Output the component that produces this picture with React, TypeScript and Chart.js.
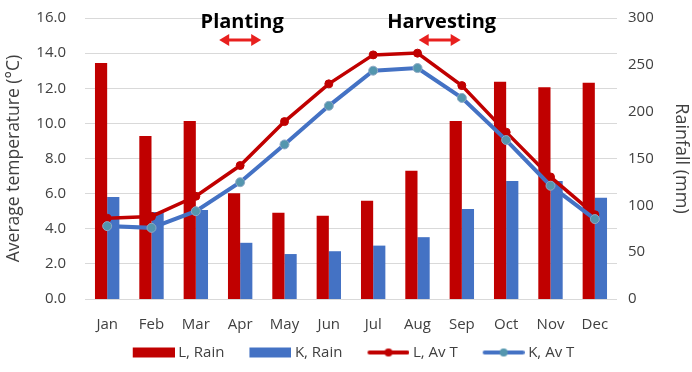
import React, { useEffect, useRef } from 'react';
import { Chart, registerables } from 'chart.js';

Chart.register(...registerables);

const months = ['Jan', 'Feb', 'Mar', 'Apr', 'May', 'Jun', 'Jul', 'Aug', 'Sep', 'Oct', 'Nov', 'Dec'];
const lRain = [252, 174, 190, 113, 92, 89, 105, 137, 190, 232, 226, 231];
const kRain = [109, 93, 95, 60, 48, 51, 57, 66, 96, 126, 126, 108];
const lTemp = [4.6, 4.7, 5.85, 7.6, 10.1, 12.25, 13.9, 14.0, 12.15, 9.5, 6.95, 4.8];
const kTemp = [4.15, 4.05, 5.0, 6.65, 8.8, 11.0, 13.0, 13.15, 11.45, 9.05, 6.45, 4.55];

const tempTicksMax = 16;
const rainTicksMax = 300;

const annotationLabels = ['Planting', 'Harvesting'];
const annotationFrom = [3, 7];
const annotationTo = [3, 8];

const RED = '#C00000';
const BLUE = '#4472C4';
const MARKER_K = '#5496AE';
const FONT = "'Open Sans', sans-serif";

function legendImage(kind: 'bar' | 'line', color: string, marker: string): HTMLCanvasElement {
  const c = document.createElement('canvas');
  c.width = 61;
  c.height = 12;
  const ctx = c.getContext('2d')!;
  const x0 = 19;
  if (kind === 'bar') {
    ctx.fillStyle = color;
    ctx.fillRect(x0, 1, 42, 10);
  } else {
    ctx.strokeStyle = color;
    ctx.lineWidth = 4;
    ctx.lineCap = 'round';
    ctx.beginPath();
    ctx.moveTo(x0 + 2, 6);
    ctx.lineTo(x0 + 40, 6);
    ctx.stroke();
    ctx.fillStyle = marker;
    ctx.beginPath();
    ctx.arc(x0 + 21, 6, 4, 0, Math.PI * 2);
    ctx.fill();
  }
  return c;
}

const annotationPlugin = {
  id: 'seasonAnnotations',
  afterDraw(chart: any) {
    const { ctx, chartArea, scales } = chart;
    const xs = scales.x;
    ctx.save();
    for (let i = 0; i < annotationLabels.length; i++) {
      const cx = (xs.getPixelForValue(annotationFrom[i]) + xs.getPixelForValue(annotationTo[i])) / 2;
      ctx.fillStyle = '#000000';
      ctx.font = `bold 20px ${FONT}`;
      ctx.textAlign = 'center';
      ctx.textBaseline = 'middle';
      ctx.fillText(annotationLabels[i], cx + 2, chartArea.top + 4);
      const ay = chartArea.top + 22;
      const hw = 21;
      ctx.strokeStyle = '#E8201E';
      ctx.fillStyle = '#E8201E';
      ctx.lineWidth = 3;
      ctx.beginPath();
      ctx.moveTo(cx - hw + 6, ay);
      ctx.lineTo(cx + hw - 6, ay);
      ctx.stroke();
      ctx.beginPath();
      ctx.moveTo(cx - hw, ay);
      ctx.lineTo(cx - hw + 10, ay - 6);
      ctx.lineTo(cx - hw + 10, ay + 6);
      ctx.closePath();
      ctx.fill();
      ctx.beginPath();
      ctx.moveTo(cx + hw, ay);
      ctx.lineTo(cx + hw - 10, ay - 6);
      ctx.lineTo(cx + hw - 10, ay + 6);
      ctx.closePath();
      ctx.fill();
    }
    ctx.restore();
  },
};

export default function App() {
  const canvasRef = useRef<HTMLCanvasElement | null>(null);

  useEffect(() => {
    document.body.style.margin = '0';
    const canvas = canvasRef.current;
    if (!canvas) return;
    const imgs = [
      legendImage('bar', RED, RED),
      legendImage('bar', BLUE, BLUE),
      legendImage('line', RED, RED),
      legendImage('line', BLUE, MARKER_K),
    ];
    const chart = new Chart(canvas, {
      type: 'bar',
      data: {
        labels: months,
        datasets: [
          {
            type: 'bar',
            label: 'L, Rain',
            data: lRain,
            yAxisID: 'y1',
            backgroundColor: RED,
            categoryPercentage: 0.55,
            barPercentage: 1.0,
            order: 2,
          } as any,
          {
            type: 'bar',
            label: 'K, Rain',
            data: kRain,
            yAxisID: 'y1',
            backgroundColor: BLUE,
            categoryPercentage: 0.55,
            barPercentage: 1.0,
            order: 2,
          } as any,
          {
            type: 'line',
            label: 'L, Av T',
            data: lTemp,
            yAxisID: 'y',
            borderColor: RED,
            backgroundColor: RED,
            borderWidth: 3.5,
            pointStyle: 'circle',
            pointRadius: 4,
            pointBackgroundColor: RED,
            pointBorderColor: RED,
            pointBorderWidth: 1,
            tension: 0,
            order: 1,
          } as any,
          {
            type: 'line',
            label: 'K, Av T',
            data: kTemp,
            yAxisID: 'y',
            borderColor: BLUE,
            backgroundColor: MARKER_K,
            borderWidth: 4,
            pointStyle: 'circle',
            pointRadius: 4.5,
            pointBackgroundColor: MARKER_K,
            pointBorderColor: '#8FA9C4',
            pointBorderWidth: 1,
            tension: 0,
            order: 0,
          } as any,
        ],
      },
      options: {
        animation: false,
        responsive: true,
        maintainAspectRatio: false,
        layout: { padding: { top: 18, left: 0, right: 0, bottom: 2 } },
        plugins: {
          tooltip: { enabled: false },
          legend: {
            position: 'bottom',
            labels: {
              usePointStyle: true,
              pointStyleWidth: 53,
              padding: 10,
              color: '#404040',
              font: { family: FONT, size: 15 },
              sort: (a: any, b: any) => a.datasetIndex - b.datasetIndex,
              generateLabels: (chart: any) => {
                const items = Chart.defaults.plugins.legend.labels.generateLabels(chart);
                return items.map((it: any) => ({ ...it, pointStyle: imgs[it.datasetIndex] }));
              },
            },
          },
        },
        scales: {
          x: {
            grid: { display: false, drawTicks: false },
            border: { display: false },
            ticks: { color: '#404040', font: { family: FONT, size: 15 }, padding: 17 },
            afterFit: (s: any) => { s.height = 36; },
          },
          y: {
            position: 'left',
            min: 0,
            max: tempTicksMax,
            ticks: {
              stepSize: 2,
              color: '#404040',
              font: { family: FONT, size: 15 },
              padding: 19,
              callback: (v: any) => Number(v).toFixed(1),
            },
            grid: { color: '#D9D9D9', drawTicks: false },
            border: { display: false },
            title: {
              display: true,
              text: 'Average temperature (°C)',
              color: '#404040',
              font: { family: FONT, size: 17.5 },
              padding: { top: 4, bottom: 4 },
            },
            afterFit: (s: any) => {
              s.width = 85;
              s.paddingTop = 0;
              s.paddingBottom = 0;
            },
          },
          y1: {
            position: 'right',
            min: 0,
            max: rainTicksMax,
            ticks: {
              stepSize: 50,
              color: '#404040',
              font: { family: FONT, size: 15 },
              padding: 11,
            },
            grid: { display: false, drawTicks: false },
            border: { display: false },
            title: {
              display: true,
              text: 'Rainfall (mm)',
              color: '#404040',
              font: { family: FONT, size: 18 },
              padding: { top: 0, bottom: 4 },
            },
            afterFit: (s: any) => {
              s.width = 75;
              s.paddingTop = 0;
              s.paddingBottom = 0;
            },
          },
        },
      },
      plugins: [annotationPlugin],
    });
    return () => chart.destroy();
  }, []);

  return (
    <div style={{ width: 692, height: 372, position: 'relative' }}>
      <canvas ref={canvasRef} />
    </div>
  );
}
